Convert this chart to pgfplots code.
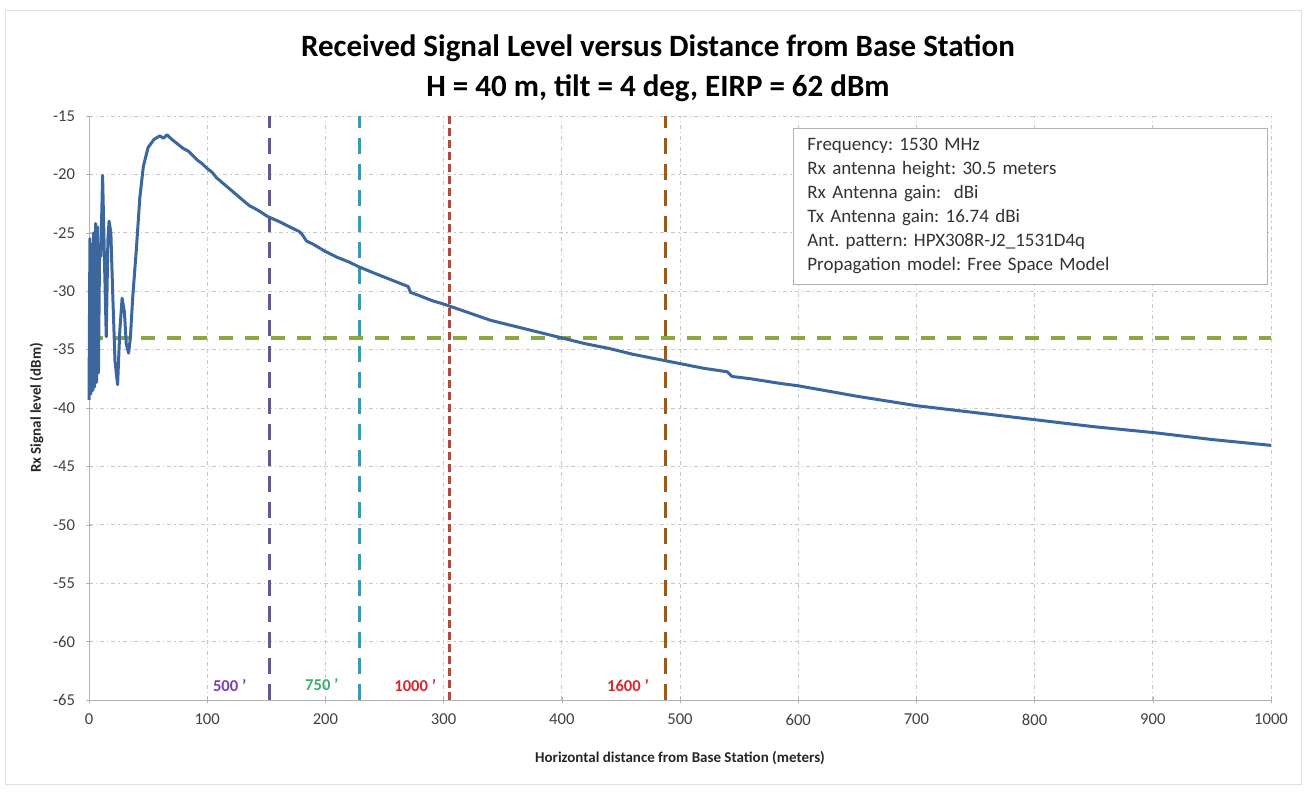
\documentclass[border=0pt]{standalone}
\usepackage{pgfplots}
\pgfplotsset{compat=1.18}
\usepackage{fontspec}
\setmainfont{Carlito}
\frenchspacing
\definecolor{curve}{HTML}{3B679E}
\definecolor{vpurple}{HTML}{5F5894}
\definecolor{vteal}{HTML}{3A9AB2}
\definecolor{vred}{HTML}{B2493E}
\definecolor{vbrown}{HTML}{9A5A1C}
\definecolor{vgreen}{HTML}{8AA83C}
\definecolor{lpurple}{HTML}{7A3FB0}
\definecolor{lgreen}{HTML}{3CAE6A}
\definecolor{lred}{HTML}{D8282E}
\begin{document}
\begin{tikzpicture}
\path[use as bounding box] (-44.5pt,-45.5pt) rectangle (610pt,350pt);
\draw[gray!25] (-42pt,-42pt) rectangle (606pt,345pt);
\begin{axis}[
  scale only axis, width=591pt, height=292pt,
  at={(0,0)}, anchor=south west,
  xmin=0, xmax=1000, ymin=-65, ymax=-15,
  xtick={0,100,...,1000}, ytick={-65,-60,...,-15},
  axis lines=left, axis line style={-, gray!60},
  tick pos=left, major tick length=3pt, tick style={gray!60},
  grid=major,
  major grid style={gray!45, line width=0.4pt, dash pattern=on 2pt off 1.5pt on 0.6pt off 1.5pt},
  /pgf/number format/assume math mode=true,
  /pgf/number format/1000 sep={},
  ticklabel style={font=\fontsize{8.3}{9}\selectfont, text=black!75},
  xticklabel style={yshift=-2pt},
  yticklabel style={xshift=-2pt},
  xlabel={\bfseries Horizontal distance from Base Station (meters)},
  ylabel={\bfseries Rx Signal level (dBm)},
  label style={font=\fontsize{7.5}{9}\selectfont, text=black!85},
  xlabel style={at={(rel axis cs:0.5,0)}, anchor=base, yshift=-31pt},
  ylabel style={at={(rel axis cs:0,0.5)}, anchor=base, yshift=24pt},
  clip=false,
]
% vertical distance markers
\addplot[vpurple, line width=1.6pt, dash pattern=on 8pt off 5pt] coordinates {(152.4,-65) (152.4,-15)};
\addplot[vteal, line width=1.6pt, dash pattern=on 8pt off 5pt] coordinates {(228.6,-65) (228.6,-15)};
\addplot[vred, line width=1.4pt, dash pattern=on 4pt off 2pt] coordinates {(304.8,-65) (304.8,-15)};
\addplot[vbrown, line width=1.6pt, dash pattern=on 8pt off 5pt] coordinates {(487.7,-65) (487.7,-15)};
% threshold
\addplot[vgreen, line width=1.6pt, dash pattern=on 7pt off 6pt] coordinates {(0,-34) (1000,-34)};
% received signal
\addplot[curve, line width=1.5pt, line join=round] coordinates {
(0,-39.3) (0.8,-25.5) (1.6,-38.8) (2.4,-26) (3.2,-38.5) (4,-25) (4.8,-38.2)
(5.6,-24.2) (6.4,-37.8) (7.2,-24.5) (8,-37) (9,-26) (10,-27) (11.5,-20.1)
(13,-27) (14.6,-33.9) (16,-25.5) (17,-24) (18.5,-25) (20,-30) (22,-36)
(24.2,-38.0) (26,-33.5) (28,-30.6) (30,-31.8) (31.5,-34.5) (33.5,-35.3)
(35,-34) (37,-30.5) (40,-26.5) (43,-22) (46,-19.3) (50,-17.7) (55,-17.0)
(60,-16.7) (63,-16.9) (66,-16.6) (70,-17.0) (75,-17.4) (80,-17.8) (84,-18.0)
(88,-18.4) (92,-18.8) (96,-19.1) (100,-19.5) (104,-19.8) (108,-20.3)
(115,-20.9) (122,-21.5) (130,-22.2) (136,-22.7) (140,-22.9) (145,-23.2)
(151,-23.6) (160,-24.0) (170,-24.5) (178,-24.9) (180,-25.1) (184,-25.7)
(190,-26.0) (200,-26.6) (210,-27.1) (220,-27.5) (228,-27.9) (240,-28.4)
(250,-28.8) (260,-29.2) (270,-29.6) (272,-30.1) (280,-30.4) (290,-30.8)
(300,-31.1) (320,-31.8) (340,-32.5) (360,-33.0) (380,-33.5) (400,-34.0)
(420,-34.5) (440,-34.9) (460,-35.4) (485,-35.9) (500,-36.2) (520,-36.6)
(540,-36.9) (544,-37.3) (560,-37.5) (585,-37.9) (600,-38.1) (650,-39.0)
(700,-39.8) (750,-40.4) (800,-41.0) (850,-41.6) (900,-42.1) (950,-42.7)
(1000,-43.2)
};
% distance labels
\node[font=\bfseries\fontsize{8.3}{9}\selectfont, text=lpurple] at (axis cs:119,-63.8) {500 '};
\node[font=\bfseries\fontsize{8.3}{9}\selectfont, text=lgreen] at (axis cs:197,-63.7) {750 '};
\node[font=\bfseries\fontsize{8.3}{9}\selectfont, text=lred] at (axis cs:276,-63.8) {1000 '};
\node[font=\bfseries\fontsize{8.3}{9}\selectfont, text=lred] at (axis cs:456,-63.8) {1600 '};
% info box
\node[draw=gray!60, fill=white, anchor=north west, inner xsep=7pt, inner ysep=5pt,
      text width=223pt, align=left, font=\fontsize{9.5}{12}\selectfont, text=black!80]
  at (axis cs:595.6,-16.03) {Frequency: 1530 MHz\\
Rx antenna height: 30.5 meters\\
Rx Antenna gain:\ \ dBi\\
Tx Antenna gain: 16.74 dBi\\
Ant. pattern: HPX308R-J2\_1531D4q\\
Propagation model: Free Space Model};
% title
\node[anchor=base, font=\bfseries\fontsize{15.5}{17}\selectfont] at ([xshift=-11pt,yshift=29.5pt]rel axis cs:0.5,1) {Received Signal Level versus Distance from Base Station};
\node[anchor=base, font=\bfseries\fontsize{15.5}{17}\selectfont] at ([xshift=-11pt,yshift=9.5pt]rel axis cs:0.5,1) {H = 40 m, tilt = 4 deg, EIRP = 62 dBm};
\end{axis}
\end{tikzpicture}
\end{document}
